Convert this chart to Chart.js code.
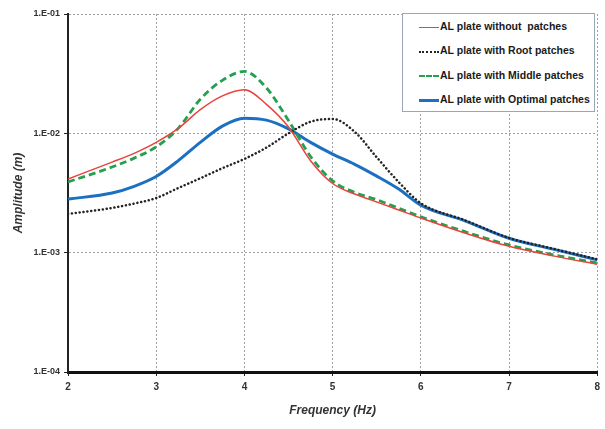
<!DOCTYPE html>
<html>
<head>
<meta charset="utf-8">
<script src="https://cdn.jsdelivr.net/npm/chart.js@4/dist/chart.umd.min.js"></script>
<style>
  body { margin: 0; background: #fff; }
  #wrap { position: relative; width: 605px; height: 429px; }
  #legend {
    position: absolute; left: 402px; top: 13px; width: 191px; height: 97px;
    border: 1px solid #9aa7bb; background: #fff;
    font: bold 10.5px "Liberation Sans", Arial, sans-serif; color: #1a1a1a;
  }
  #legend .row { position: absolute; left: 16px; height: 14px; line-height: 14px; white-space: pre; }
  #legend .sample { display: inline-block; width: 20px; vertical-align: middle; margin-right: 1px; }
</style>
</head>
<body>
<div id="wrap">
  <canvas id="chart" width="605" height="429"></canvas>
  <div id="legend"></div>
</div>
<script>
// frequency (Hz) sample points
const frequency = [2, 2.5, 2.75, 3, 3.25, 3.5, 3.75, 4, 4.25, 4.5, 4.75, 5, 5.25, 5.5, 5.75, 6, 6.5, 7, 7.5, 8];

// amplitude (m)
const withoutPatches = [4.14e-3, 5.74e-3, 6.8e-3, 8.4e-3, 1.10e-2, 1.58e-2, 2.06e-2, 2.32e-2, 1.75e-2, 1.13e-2, 5.9e-3, 3.8e-3, 3.1e-3, 2.66e-3, 2.28e-3, 1.95e-3, 1.46e-3, 1.13e-3, 9.4e-4, 8.0e-4];
const rootPatches    = [2.11e-3, 2.37e-3, 2.58e-3, 2.87e-3, 3.48e-3, 4.2e-3, 5.1e-3, 6.1e-3, 7.6e-3, 1.0e-2, 1.25e-2, 1.32e-2, 1.03e-2, 6.3e-3, 3.9e-3, 2.6e-3, 1.87e-3, 1.33e-3, 1.08e-3, 8.8e-4];
const middlePatches  = [3.91e-3, 5.22e-3, 6.2e-3, 7.7e-3, 1.10e-2, 1.93e-2, 2.78e-2, 3.30e-2, 2.40e-2, 1.28e-2, 6.4e-3, 4.0e-3, 3.2e-3, 2.78e-3, 2.36e-3, 2.0e-3, 1.50e-3, 1.16e-3, 9.6e-4, 8.2e-4];
const optimalPatches = [2.81e-3, 3.16e-3, 3.6e-3, 4.35e-3, 5.9e-3, 8.4e-3, 1.15e-2, 1.34e-2, 1.29e-2, 1.09e-2, 8.4e-3, 6.7e-3, 5.5e-3, 4.38e-3, 3.41e-3, 2.5e-3, 1.85e-3, 1.32e-3, 1.07e-3, 8.7e-4];

const seriesNames = [
  "AL plate without  patches",
  "AL plate with Root patches",
  "AL plate with Middle patches",
  "AL plate with Optimal patches"
];

const yTicks = [1e-4, 1e-3, 1e-2, 1e-1];
const xTicks = [2, 3, 4, 5, 6, 7, 8];

const toPoints = (vals) => vals.map((v, i) => ({ x: frequency[i], y: v }));

const datasets = [
  { label: seriesNames[0], data: toPoints(withoutPatches), borderColor: "#e8433d", borderWidth: 1.5 },
  { label: seriesNames[1], data: toPoints(rootPatches), borderColor: "#222", borderWidth: 2.5,
    borderDash: [0.1, 3.8], borderCapStyle: "round" },
  { label: seriesNames[2], data: toPoints(middlePatches), borderColor: "#24a04e", borderWidth: 2.8,
    borderDash: [7, 4] },
  { label: seriesNames[3], data: toPoints(optimalPatches), borderColor: "#1d6fc2", borderWidth: 3 }
].map(d => Object.assign({ pointRadius: 0, cubicInterpolationMode: "monotone", fill: false, borderJoinStyle: "round" }, d));

const gridStyle = { color: "#a0a0a0", lineWidth: 1, tickLength: 4, tickColor: "#222", tickWidth: 1 };
const tickFont = { family: "'Liberation Sans', Arial, sans-serif", size: 9, weight: "bold" };
const titleFont = { family: "'Liberation Sans', Arial, sans-serif", size: 12, weight: "bold", style: "italic" };

new Chart(document.getElementById("chart"), {
  type: "line",
  data: { datasets },
  options: {
    responsive: false,
    animation: false,
    layout: { padding: { top: 14, right: 5, left: 0, bottom: 0 } },
    plugins: { legend: { display: false }, tooltip: { enabled: false } },
    scales: {
      x: {
        type: "linear", min: 2, max: 8,
        afterBuildTicks: (s) => { s.ticks = xTicks.map(v => ({ value: v })); },
        afterFit: (s) => { s.height = 57; },
        grid: gridStyle,
        border: { color: "#111", width: 3, dash: [2, 2] },
        ticks: { font: Object.assign({}, tickFont, { size: 10 }), color: "#333", padding: 5, maxRotation: 0 },
        title: { display: true, text: "Frequency (Hz)", font: titleFont, color: "#333", padding: { top: 0, bottom: 11 } }
      },
      y: {
        type: "logarithmic", min: 1e-4, max: 1e-1,
        afterBuildTicks: (s) => { s.ticks = yTicks.map(v => ({ value: v })); },
        afterFit: (s) => { s.width = 68; },
        grid: gridStyle,
        border: { color: "#222", width: 2, dash: [2, 2] },
        ticks: {
          font: tickFont, color: "#333", padding: 4,
          callback: (v) => "1.E-" + String(-Math.round(Math.log10(v))).padStart(2, "0")
        },
        title: { display: true, text: "Amplitude (m)", font: titleFont, color: "#333", padding: { top: 11, bottom: 0 } }
      }
    }
  }
});

// legend box, built from the dataset styles
const legend = document.getElementById("legend");
const sampleBorder = [
  "1.5px solid #e8433d",
  "2.5px dotted #222",
  "2.5px dashed #24a04e",
  "3px solid #1d6fc2"
];
datasets.forEach((d, i) => {
  const row = document.createElement("div");
  row.className = "row";
  row.style.top = (5 + i * 24.3) + "px";
  row.innerHTML = `<span class="sample" style="border-top:${sampleBorder[i]}"></span>${d.label}`;
  legend.appendChild(row);
});
</script>
</body>
</html>
